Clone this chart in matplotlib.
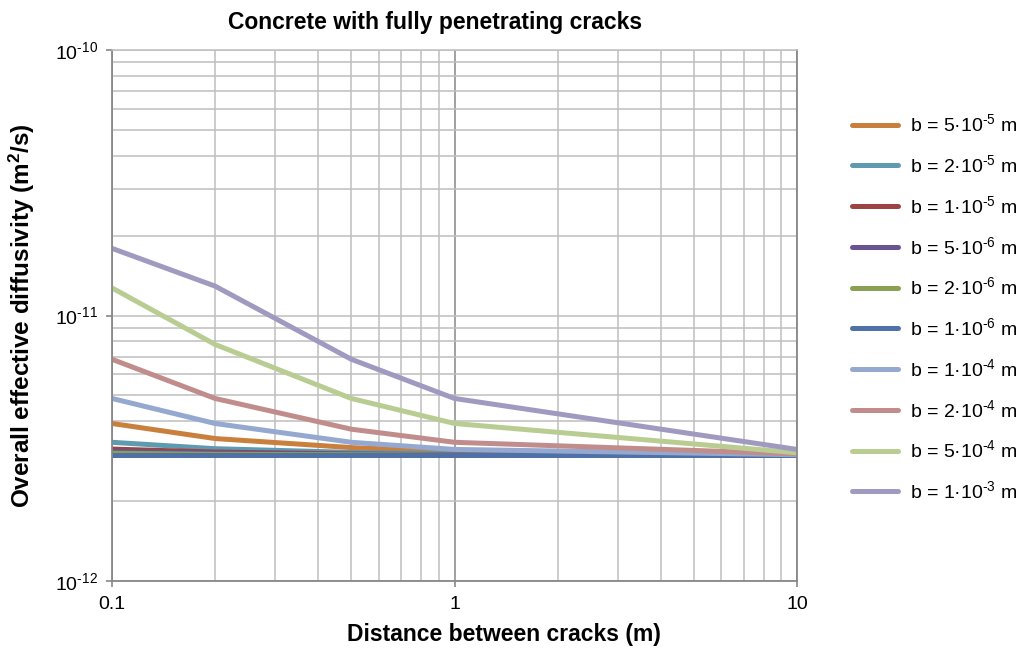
import numpy as np
import matplotlib
matplotlib.use('Agg')
import matplotlib.pyplot as plt
from matplotlib.ticker import LogLocator, FixedLocator, NullFormatter

plt.rcParams['font.family'] = ['Liberation Sans', 'DejaVu Sans']
plt.rcParams['mathtext.fontset'] = 'custom'
plt.rcParams['mathtext.rm'] = 'Liberation Sans'

# distance between cracks (m)
distance = [0.1, 0.2, 0.5, 1, 10]

labels = ['b = 5·10$\\mathregular{^{‐5}}$ m', 'b = 2·10$\\mathregular{^{‐5}}$ m',
          'b = 1·10$\\mathregular{^{‐5}}$ m', 'b = 5·10$\\mathregular{^{‐6}}$ m',
          'b = 2·10$\\mathregular{^{‐6}}$ m', 'b = 1·10$\\mathregular{^{‐6}}$ m',
          'b = 1·10$\\mathregular{^{‐4}}$ m', 'b = 2·10$\\mathregular{^{‐4}}$ m',
          'b = 5·10$\\mathregular{^{‐4}}$ m', 'b = 1·10$\\mathregular{^{‐3}}$ m']
ytick_labels = ['10$\\mathregular{^{‐12}}$', '10$\\mathregular{^{‐11}}$', '10$\\mathregular{^{‐10}}$']

# overall effective diffusivity (m2/s)
d_5e5 = [3.92e-12, 3.44e-12, 3.18e-12, 3.07e-12, 2.98e-12]
d_2e5 = [3.33e-12, 3.15e-12, 3.05e-12, 3.01e-12, 2.98e-12]
d_1e5 = [3.14e-12, 3.06e-12, 3.01e-12, 2.99e-12, 2.98e-12]
d_5e6 = [3.08e-12, 3.03e-12, 3.00e-12, 2.99e-12, 2.98e-12]
d_2e6 = [3.03e-12, 3.00e-12, 2.99e-12, 2.98e-12, 2.98e-12]
d_1e6 = [2.98e-12, 2.98e-12, 2.98e-12, 2.98e-12, 2.98e-12]
d_1e4 = [4.87e-12, 3.92e-12, 3.33e-12, 3.13e-12, 2.99e-12]
d_2e4 = [6.84e-12, 4.87e-12, 3.73e-12, 3.33e-12, 3.01e-12]
d_5e4 = [1.27e-11, 7.78e-12, 4.87e-12, 3.92e-12, 3.04e-12]
d_1e3 = [1.79e-11, 1.29e-11, 6.84e-12, 4.87e-12, 3.13e-12]

series = [d_5e5, d_2e5, d_1e5, d_5e6, d_2e6, d_1e6, d_1e4, d_2e4, d_5e4, d_1e3]
colors = ['#C9803D', '#5E9AB0', '#9C4442', '#6A5392', '#8AA053', '#5070A8',
          '#94A8D0', '#C08D8C', '#B9CC92', '#A099C0']

fig = plt.figure(figsize=(10.26, 6.5), dpi=100)
ax = fig.add_axes([112/1026, 1-581/650, (797-112)/1026, (581-50)/650])

for vals, c, lab in zip(series, colors, labels):
    ax.plot(distance, vals, color=c, lw=3.6, label=lab, solid_capstyle='round')

ax.set_xscale('log')
ax.set_yscale('log')
ax.set_xlim(0.1, 10)
ax.set_ylim(1e-12, 1e-10)

ax.xaxis.set_major_locator(FixedLocator([0.1, 1, 10]))
ax.set_xticklabels(['0.1', '1', '10'])
ax.xaxis.set_minor_locator(LogLocator(base=10, subs=np.arange(2, 10)))
ax.xaxis.set_minor_formatter(NullFormatter())
ax.yaxis.set_major_locator(FixedLocator([1e-12, 1e-11, 1e-10]))
ax.set_yticklabels(ytick_labels)
ax.yaxis.set_minor_locator(LogLocator(base=10, subs=np.arange(2, 10)))
ax.yaxis.set_minor_formatter(NullFormatter())

ax.grid(True, which='minor', color='#BFBFBF', lw=1.1)
ax.grid(True, which='major', axis='y', color='#BFBFBF', lw=1.1)
ax.grid(True, which='major', axis='x', color='#888888', lw=1.1)
ax.set_axisbelow(True)

for s in ['left', 'bottom', 'right']:
    ax.spines[s].set_color('#888888')
    ax.spines[s].set_linewidth(1.3)
ax.spines['top'].set_color('#BFBFBF')
ax.spines['top'].set_linewidth(1.1)

ax.tick_params(which='major', length=4, color='#888888', width=1.2, labelsize=14)
ax.tick_params(axis='x', pad=7)
ax.tick_params(axis='y', pad=6)
ax.tick_params(which='minor', length=0)

fig.text(435/1026, 1-22/650, 'Concrete with fully penetrating cracks', ha='center', va='center',
         fontsize=16.5, fontweight='bold')
fig.text(504/1026, 1-634/650, 'Distance between cracks (m)', ha='center', va='center',
         fontsize=16.5, fontweight='bold')
fig.text(22/1026, 1-316/650, 'Overall effective diffusivity (m$\\mathregular{^{2}}$/s)', ha='center',
         va='center', rotation=90, fontsize=17.5, fontweight='bold')

fig.legend(loc='upper left', bbox_to_anchor=(834/1026, 1-96/650), frameon=False,
           fontsize=14, handlelength=2.4, handletextpad=0.6, labelspacing=0.97)

fig.savefig('out.png', dpi=100)
